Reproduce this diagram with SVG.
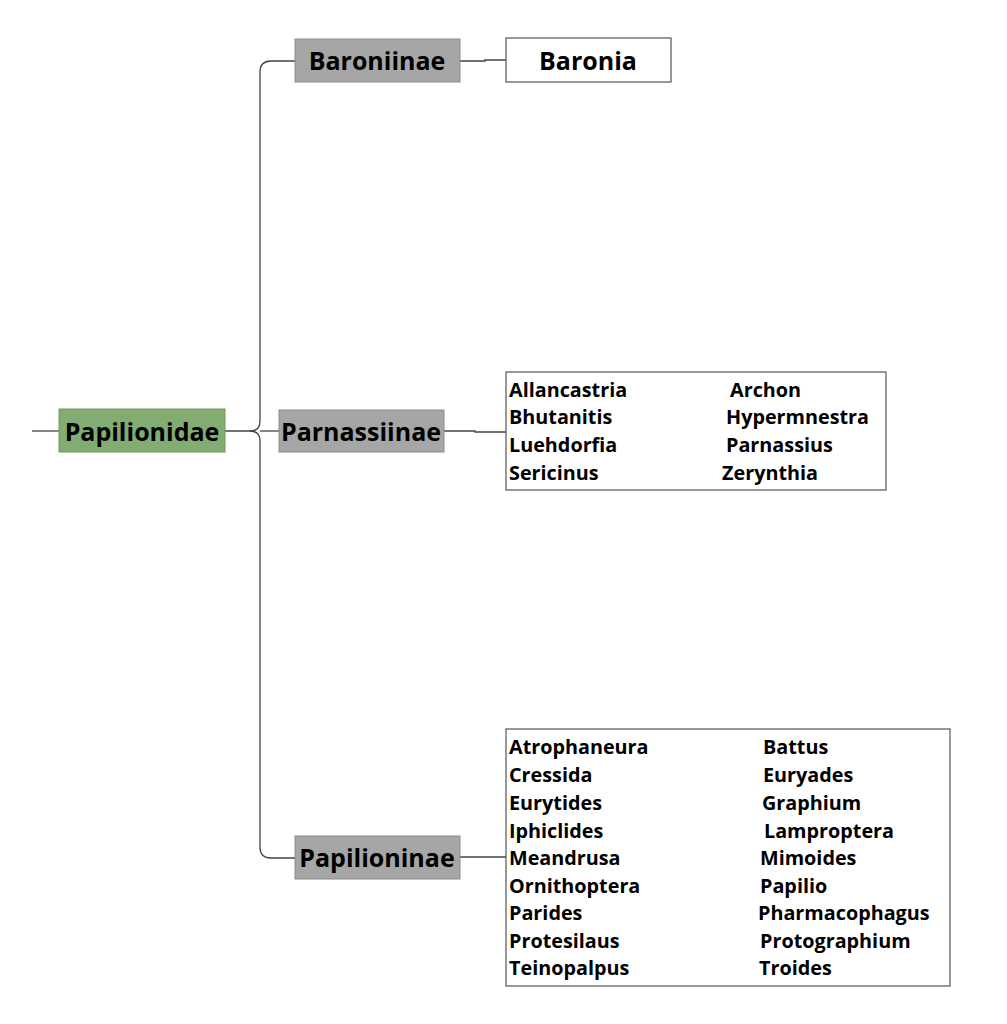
<svg xmlns="http://www.w3.org/2000/svg" width="1007" height="1024" viewBox="0 0 1007 1024">
<style>
.sub{fill:#a6a6a6;stroke:#8c8c8c;stroke-width:1}
.t{font-family:"Open Sans","Noto Sans",sans-serif;font-weight:bold;fill:#000}
.big{font-size:25px;text-anchor:middle;dominant-baseline:central}
.li{font-size:19.8px;dominant-baseline:central}
.c{fill:none;stroke:#444;stroke-width:1.3}
.box{fill:#fff;stroke:#555;stroke-width:1.2}
</style>
<rect width="1007" height="1024" fill="#fff"/>
<g id="connectors">
<path class="c" d="M32 431H59"/>
<path class="c" d="M225 431H250Q260 431 260 421V72Q260 61 271 61H295"/>
<path class="c" d="M250 431Q260 431 260 441V847Q260 858 271 858H295"/>
<path class="c" d="M260 431H279"/>
<path class="c" d="M460 61H485V60H506"/>
<path class="c" d="M444 431H475V432H506"/>
<path class="c" d="M460 857H506"/>
</g>
<g id="root"><rect x="59" y="409" width="166" height="43" fill="#82ac72" stroke="#6f9a60"/><text class="t big" x="142" y="431">Papilionidae</text></g>
<g id="baroniinae"><rect class="sub" x="295" y="39" width="165" height="43"/><text class="t big" x="377" y="60">Baroniinae</text></g>
<g id="baronia"><rect class="box" x="506" y="38" width="165" height="44"/><text class="t big" x="588" y="60">Baronia</text></g>
<g id="parnassiinae"><rect class="sub" x="279" y="410" width="165" height="42"/><text class="t big" x="361" y="431">Parnassiinae</text></g>
<g id="papilioninae"><rect class="sub" x="295" y="836" width="165" height="43"/><text class="t big" x="377" y="857">Papilioninae</text></g>
<g id="parnassiinae-genera"><rect class="box" x="506" y="372" width="380" height="118"/>
<text class="t li" x="509" y="389">Allancastria</text><text class="t li" x="730" y="389">Archon</text>
<text class="t li" x="509" y="416">Bhutanitis</text><text class="t li" x="726" y="416">Hypermnestra</text>
<text class="t li" x="509" y="444">Luehdorfia</text><text class="t li" x="726" y="444">Parnassius</text>
<text class="t li" x="509" y="472">Sericinus</text><text class="t li" x="722" y="472">Zerynthia</text>
</g>
<g id="papilioninae-genera"><rect class="box" x="506" y="729" width="444" height="257"/>
<text class="t li" x="509" y="746">Atrophaneura</text><text class="t li" x="763" y="746">Battus</text>
<text class="t li" x="509" y="774">Cressida</text><text class="t li" x="763" y="774">Euryades</text>
<text class="t li" x="509" y="802">Eurytides</text><text class="t li" x="762" y="802">Graphium</text>
<text class="t li" x="509" y="830">Iphiclides</text><text class="t li" x="764" y="830">Lamproptera</text>
<text class="t li" x="509" y="857">Meandrusa</text><text class="t li" x="760" y="857">Mimoides</text>
<text class="t li" x="509" y="885">Ornithoptera</text><text class="t li" x="760" y="885">Papilio</text>
<text class="t li" x="509" y="912">Parides</text><text class="t li" x="758" y="912">Pharmacophagus</text>
<text class="t li" x="509" y="940">Protesilaus</text><text class="t li" x="760" y="940">Protographium</text>
<text class="t li" x="509" y="967">Teinopalpus</text><text class="t li" x="759" y="967">Troides</text>
</g>
</svg>
